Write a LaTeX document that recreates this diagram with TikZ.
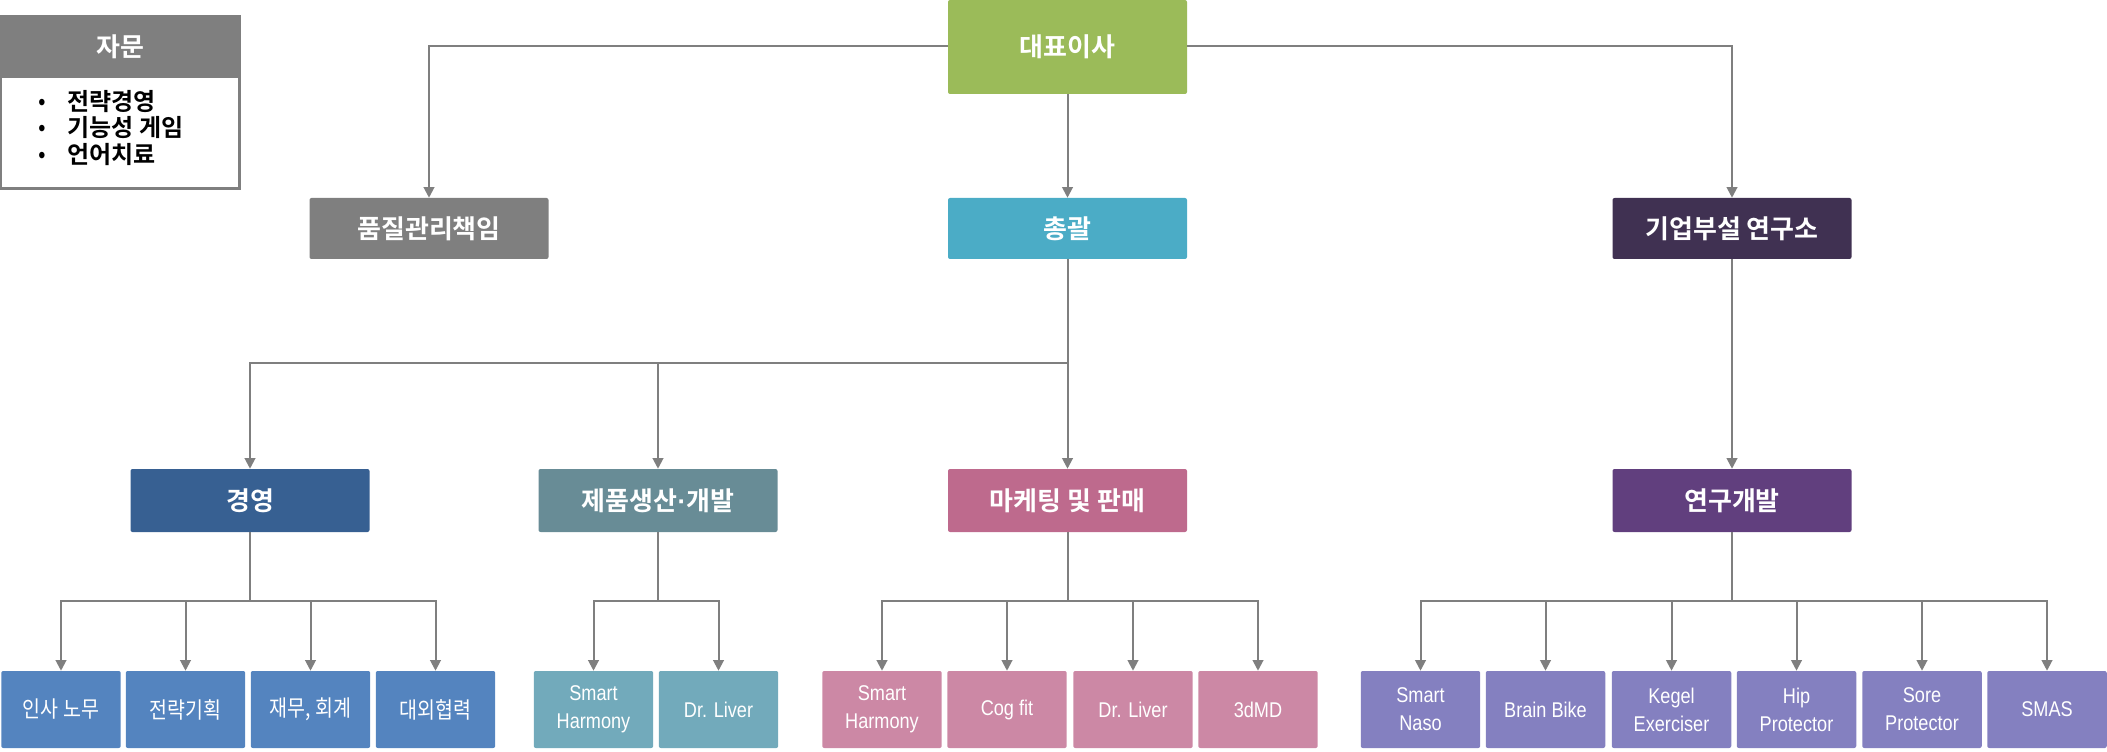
\documentclass[tikz,border=0pt]{standalone}
\usepackage{fontspec}
\setmainfont{Liberation Sans}
\newfontfamily\kr[BoldFont={Noto Sans CJK KR Bold}]{Noto Sans CJK KR}
\newfontfamily\krn[FakeStretch=0.86]{Noto Sans CJK KR}
\newfontfamily\latn[FakeStretch=0.85]{Liberation Sans}
\newfontfamily\latb{Liberation Sans Bold}
\usetikzlibrary{arrows.meta}
\definecolor{lgray}{HTML}{7F7F7F}
\definecolor{cgreen}{HTML}{9BBB59}
\definecolor{ccyan}{HTML}{4BACC6}
\definecolor{cdpurple}{HTML}{403152}
\definecolor{cnavy}{HTML}{376092}
\definecolor{cteal}{HTML}{688C96}
\definecolor{crose}{HTML}{BE6A8D}
\definecolor{cpurple}{HTML}{613F7E}
\definecolor{lblue}{HTML}{5484BF}
\definecolor{lteal}{HTML}{72AABB}
\definecolor{lpink}{HTML}{CC88A5}
\definecolor{lpurple}{HTML}{8480C0}
\tikzset{
  box/.style={rectangle, rounded corners=1.5pt, inner sep=0pt, text=white, align=center},
  hd/.style={box, minimum width=179.25pt, minimum height=45.75pt, font=\kr\bfseries\fontsize{19.5pt}{23pt}\selectfont},
  lvtwo/.style={hd, minimum height=47.25pt},
  leaf/.style={box, minimum width=89.6pt, minimum height=57.75pt, font=\latn\fontsize{16pt}{21pt}\selectfont},
  leafk/.style={leaf, font=\krn\fontsize{17pt}{21pt}\selectfont},
  plain/.style={draw=lgray, line width=1.5pt},
  conn/.style={plain, -{Triangle[width=8pt,length=8pt]}}
}
\begin{document}
\begin{tikzpicture}[x=0.75pt, y=-0.75pt]
\useasboundingbox (0,0) rectangle (2107,752);
% advisory box
\node[box, rounded corners=0pt, fill=lgray, minimum width=178.5pt, minimum height=46.5pt, anchor=north west, font=\kr\bfseries\fontsize{19.5pt}{23pt}\selectfont] (advh) at (1,16) {자문};
\node[box, rounded corners=0pt, fill=white, minimum width=178.5pt, minimum height=82.5pt, anchor=north west] (advb) at (1,78) {};
\draw[draw=lgray, line width=2pt] (advh.north west) rectangle (advb.south east);
\node[anchor=west, align=left, inner sep=0pt, text=black, font=\kr\bfseries\fontsize{18pt}{19.75pt}\selectfont] (advt) at (38,128)
  {\makebox[22pt][l]{\latn\mdseries•}전략경영\\\makebox[22pt][l]{\latn\mdseries•}기능성 게임\\\makebox[22pt][l]{\latn\mdseries•}언어치료};
% top levels
\node[hd, fill=cgreen, minimum height=70.5pt] (ceo) at (1067.5,47) {대표이사};
\node[hd, fill=lgray] (qa) at (429,228.5) {품질관리책임};
\node[hd, fill=ccyan] (gm) at (1067.5,228.5) {총괄};
\node[hd, fill=cdpurple] (lab) at (1732,228.5) {기업부설 연구소};
\node[lvtwo, fill=cnavy] (mgmt) at (250,500.5) {경영};
\node[lvtwo, fill=cteal] (prod) at (658,500.5) {제품생산{\latb·}개발};
\node[lvtwo, fill=crose] (mkt) at (1067.5,500.5) {마케팅 및 판매};
\node[lvtwo, fill=cpurple] (rnd) at (1732,500.5) {연구개발};
% leaves
\node[leafk, fill=lblue] (m1) at (61,709.5) {인사 노무};
\node[leafk, fill=lblue] (m2) at (185.5,709.5) {전략기획};
\node[leafk, fill=lblue] (m3) at (310.5,709.5) {재무, 회계};
\node[leafk, fill=lblue] (m4) at (435.5,709.5) {대외협력};
\node[leaf, fill=lteal] (p1) at (593.5,709.5) {Smart\\Harmony};
\node[leaf, fill=lteal] (p2) at (718.5,709.5) {Dr. Liver};
\node[leaf, fill=lpink] (k1) at (882,709.5) {Smart\\Harmony};
\node[leaf, fill=lpink] (k2) at (1007,709.5) {Cog fit};
\node[leaf, fill=lpink] (k3) at (1133,709.5) {Dr. Liver};
\node[leaf, fill=lpink] (k4) at (1258,709.5) {3dMD};
\node[leaf, fill=lpurple] (r1) at (1420.5,709.5) {Smart\\Naso};
\node[leaf, fill=lpurple] (r2) at (1545.5,709.5) {Brain Bike};
\node[leaf, fill=lpurple] (r3) at (1671.5,709.5) {Kegel\\Exerciser};
\node[leaf, fill=lpurple] (r4) at (1796.5,709.5) {Hip\\Protector};
\node[leaf, fill=lpurple] (r5) at (1922,709.5) {Sore\\Protector};
\node[leaf, fill=lpurple] (r6) at (2047,709.5) {SMAS};
% connectors
\draw[conn] (ceo.west |- 0,46) -| (qa.north);
\draw[conn] (ceo.east |- 0,46) -| (lab.north);
\draw[conn] (ceo.south) -- (gm.north);
\coordinate (gj) at (1067.5,363);
\draw[plain] (gm.south) -- (gj);
\draw[conn] (gj) -| (mgmt.north);
\draw[conn] (gj) -| (prod.north);
\draw[conn] (gj) -- (mkt.north);
\draw[conn] (lab.south) -- (rnd.north);
\coordinate (mj) at (250,601);
\draw[plain] (mgmt.south) -- (mj);
\foreach \n in {m1,m2,m3,m4} \draw[conn] (mj) -| (\n.north);
\coordinate (pj) at (658,601);
\draw[plain] (prod.south) -- (pj);
\foreach \n in {p1,p2} \draw[conn] (pj) -| (\n.north);
\coordinate (kj) at (1067.5,601);
\draw[plain] (mkt.south) -- (kj);
\foreach \n in {k1,k2,k3,k4} \draw[conn] (kj) -| (\n.north);
\coordinate (rj) at (1732,601);
\draw[plain] (rnd.south) -- (rj);
\foreach \n in {r1,r2,r3,r4,r5,r6} \draw[conn] (rj) -| (\n.north);
\end{tikzpicture}
\end{document}
